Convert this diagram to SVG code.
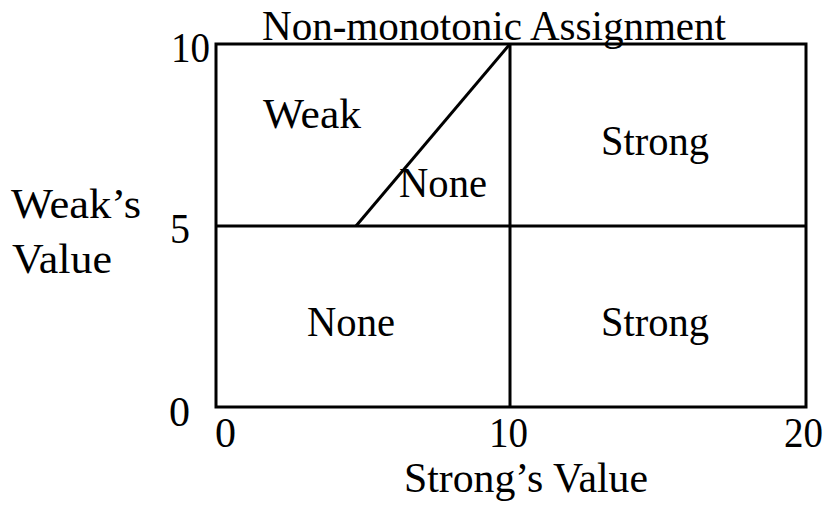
<svg xmlns="http://www.w3.org/2000/svg" width="826" height="505" viewBox="0 0 826 505">
<style>
text{font-family:"Liberation Serif","Times New Roman",serif;font-size:42px;fill:#000}
.ln{stroke:#000;stroke-width:3;fill:none}
</style>
<rect width="826" height="505" fill="#fff"/>
<g id="connectors">
<rect class="ln" x="216" y="44" width="590" height="363"/>
<line class="ln" x1="216" y1="226" x2="806" y2="226"/>
<line class="ln" x1="510" y1="44" x2="510" y2="407"/>
<line class="ln" x1="356" y1="226" x2="510" y2="44" stroke-width="2.5"/>
</g>
<g id="title"><text x="262" y="40" textLength="464" lengthAdjust="spacingAndGlyphs">Non-monotonic Assignment</text></g>
<g id="region-weak"><text x="263" y="128" textLength="98" lengthAdjust="spacingAndGlyphs">Weak</text></g>
<g id="region-none-upper"><text x="399" y="197" textLength="88" lengthAdjust="spacingAndGlyphs">None</text></g>
<g id="region-strong-upper"><text x="601" y="155" textLength="108" lengthAdjust="spacingAndGlyphs">Strong</text></g>
<g id="region-none-lower"><text x="307" y="336" textLength="88" lengthAdjust="spacingAndGlyphs">None</text></g>
<g id="region-strong-lower"><text x="601" y="336" textLength="108" lengthAdjust="spacingAndGlyphs">Strong</text></g>
<g id="y-axis">
<text x="210" y="62" text-anchor="end" textLength="39" lengthAdjust="spacingAndGlyphs">10</text>
<text x="170" y="243" textLength="20" lengthAdjust="spacingAndGlyphs">5</text>
<text x="169" y="426" textLength="21" lengthAdjust="spacingAndGlyphs">0</text>
<text x="11" y="218" textLength="130" lengthAdjust="spacingAndGlyphs">Weak’s</text>
<text x="12" y="273" textLength="100" lengthAdjust="spacingAndGlyphs">Value</text>
</g>
<g id="x-axis">
<text x="215" y="447" textLength="21" lengthAdjust="spacingAndGlyphs">0</text>
<text x="489" y="447" textLength="39" lengthAdjust="spacingAndGlyphs">10</text>
<text x="784" y="447" textLength="39" lengthAdjust="spacingAndGlyphs">20</text>
<text x="404" y="492" textLength="244" lengthAdjust="spacingAndGlyphs">Strong’s Value</text>
</g>
</svg>
